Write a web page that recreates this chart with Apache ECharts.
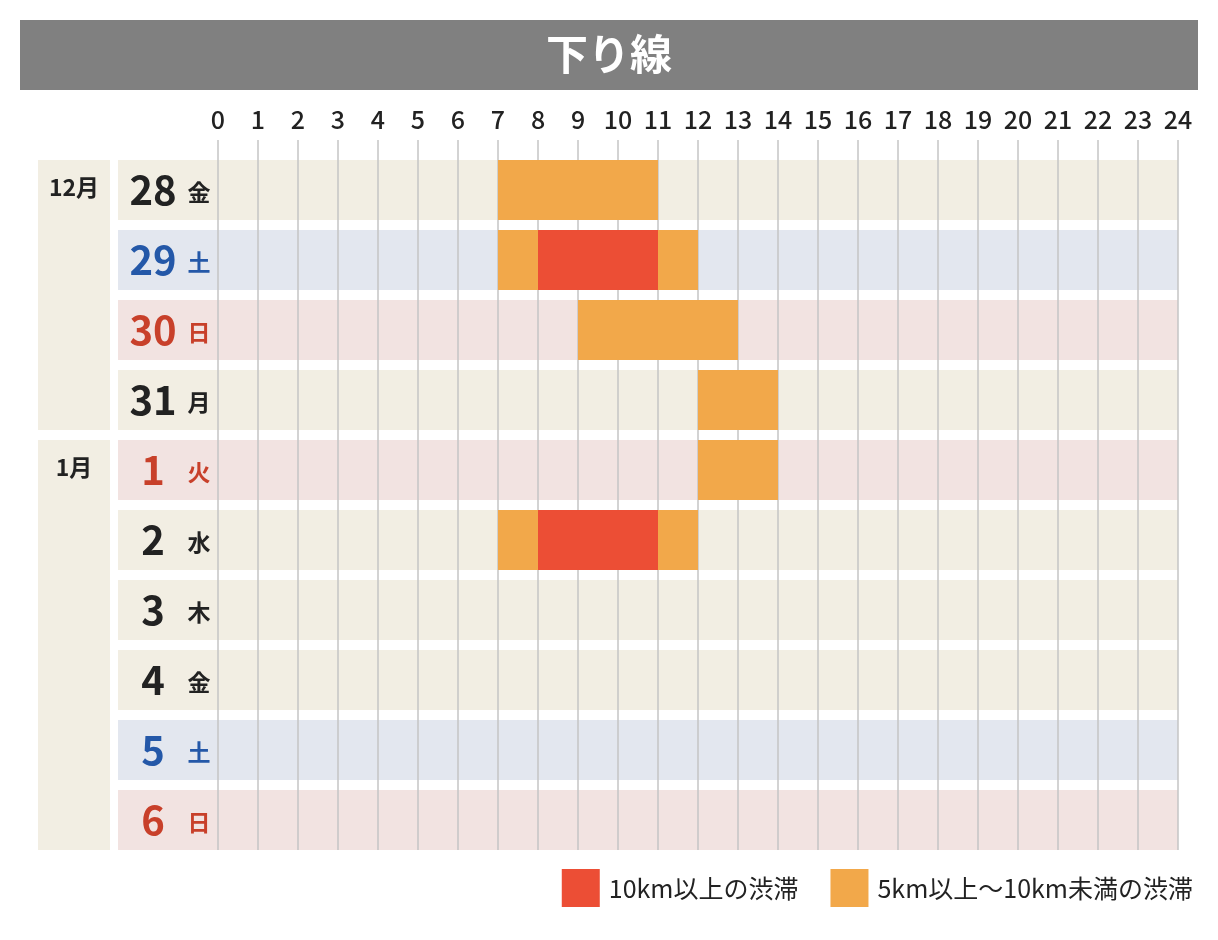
<!DOCTYPE html>
<html><head><meta charset="utf-8">
<script src="https://cdn.jsdelivr.net/npm/echarts@6/dist/echarts.min.js"></script>
<style>body{margin:0;background:#fff}#main{width:1218px;height:940px}</style>
</head><body><div id="main"></div>
<script>
// 日付行
var dayNums = ['28', '29', '30', '31', '1', '2', '3', '4', '5', '6'];
var dayNames = ['金', '土', '日', '月', '火', '水', '木', '金', '土', '日'];
var dayKinds = ['w', 'sat', 'hol', 'w', 'hol', 'w', 'w', 'w', 'sat', 'hol'];
// 月の区切り [ラベル, 開始行, 終了行]
var months = [['12月', 0, 3], ['1月', 4, 9]];
var hours = [0,1,2,3,4,5,6,7,8,9,10,11,12,13,14,15,16,17,18,19,20,21,22,23,24];
// 渋滞 [行, 開始時, 終了時]
var jam5 = [[0, 7, 11], [1, 7, 8], [1, 11, 12], [2, 9, 13], [3, 12, 14], [4, 12, 14], [5, 7, 8], [5, 11, 12]];
var jam10 = [[1, 8, 11], [5, 8, 11]];

var bgColor = { w: '#f2eee3', sat: '#e3e7ef', hol: '#f2e3e1' };
var txtColor = { w: '#222222', sat: '#2458a8', hol: '#c8402a' };
var ROW = 60;

var myChart = echarts.init(document.getElementById('main'));

function jamRender(params, api) {
    var s = api.coord([api.value(1), api.value(0)]);
    var e = api.coord([api.value(2), api.value(0)]);
    return { type: 'rect', shape: { x: s[0], y: s[1] - 35, width: e[0] - s[0], height: ROW }, style: { fill: api.visual('color') } };
}

var option = {
    animation: false,
    title: {
        text: '下り線', left: 'center', top: 28,
        textStyle: { color: '#fff', fontSize: 42, fontWeight: 'bold', fontFamily: 'Noto Sans CJK JP' }
    },
    graphic: [{ type: 'rect', shape: { x: 20, y: 20, width: 1178, height: 70 }, style: { fill: '#808080' }, z: -1 }],
    legend: {
        right: 20, bottom: 28, itemWidth: 38, itemHeight: 38, itemGap: 32, icon: 'rect',
        textStyle: { fontSize: 25, color: '#222', fontFamily: 'Noto Sans CJK JP', padding: [0, 0, 0, 4] },
        data: ['10km以上の渋滞', '5km以上〜10km未満の渋滞']
    },
    grid: { left: 218, right: 40, top: 160, bottom: 80 },
    xAxis: {
        type: 'value', position: 'top', min: 0, max: 24, interval: 1,
        axisLine: { show: false }, axisTick: { show: false }, splitLine: { show: false },
        axisLabel: { margin: 28, fontSize: 25, fontWeight: 500, color: '#222', fontFamily: 'Noto Sans CJK JP' }
    },
    yAxis: {
        type: 'category', inverse: true, data: dayNums,
        axisLine: { show: false }, axisTick: { show: false }, axisLabel: { show: false }, splitLine: { show: false }
    },
    series: [
        {
            type: 'custom', silent: true, z: 1,
            data: dayNums.map(function (d, i) { return [i]; }),
            renderItem: function (params, api) {
                var i = api.value(0);
                var l = api.coord([-2.5, i]), r = api.coord([24, i]);
                var k = dayKinds[i];
                return { type: 'group', children: [
                    { type: 'rect', shape: { x: l[0], y: l[1] - 35, width: r[0] - l[0], height: ROW }, style: { fill: bgColor[k] } },
                    { type: 'text', x: l[0] + 35, y: l[1] - 5, style: { text: dayNums[i], fill: txtColor[k], fontSize: 40, fontWeight: 'bold', align: 'center', verticalAlign: 'middle', fontFamily: 'Noto Sans CJK JP' } },
                    { type: 'text', x: l[0] + 81, y: l[1] - 3, style: { text: dayNames[i], fill: txtColor[k], fontSize: 23, fontWeight: 'bold', align: 'center', verticalAlign: 'middle', fontFamily: 'Noto Sans CJK JP' } }
                ] };
            }
        },
        {
            type: 'custom', silent: true, z: 1,
            data: months.map(function (m) { return [m[1], m[2]]; }),
            renderItem: function (params, api) {
                var a = api.coord([-4.5, api.value(0)]), b = api.coord([-2.7, api.value(1)]);
                var m = months[params.dataIndex];
                return { type: 'group', children: [
                    { type: 'rect', shape: { x: a[0], y: a[1] - 35, width: b[0] - a[0], height: b[1] - a[1] + ROW }, style: { fill: '#f2eee3' } },
                    { type: 'text', x: (a[0] + b[0]) / 2, y: a[1] - 8, style: { text: m[0], fill: '#222', fontSize: 23, fontWeight: 'bold', align: 'center', verticalAlign: 'middle', fontFamily: 'Noto Sans CJK JP' } }
                ] };
            }
        },
        {
            type: 'custom', silent: true, z: 2,
            data: hours.map(function (h) { return [h]; }),
            renderItem: function (params, api) {
                var t = api.coord([api.value(0), 0]), b = api.coord([api.value(0), dayNums.length - 1]);
                return { type: 'line', shape: { x1: t[0], y1: t[1] - 55, x2: t[0], y2: b[1] + 25 }, style: { stroke: '#c4c4c4', lineWidth: 1.5 } };
            }
        },
        {
            name: '5km以上〜10km未満の渋滞', type: 'custom', z: 3, itemStyle: { color: '#f2a84a' },
            encode: { x: [1, 2], y: 0 }, data: jam5, renderItem: jamRender
        },
        {
            name: '10km以上の渋滞', type: 'custom', z: 3, itemStyle: { color: '#ec4e35' },
            encode: { x: [1, 2], y: 0 }, data: jam10, renderItem: jamRender
        }
    ]
};
option && myChart.setOption(option);
</script></body></html>
